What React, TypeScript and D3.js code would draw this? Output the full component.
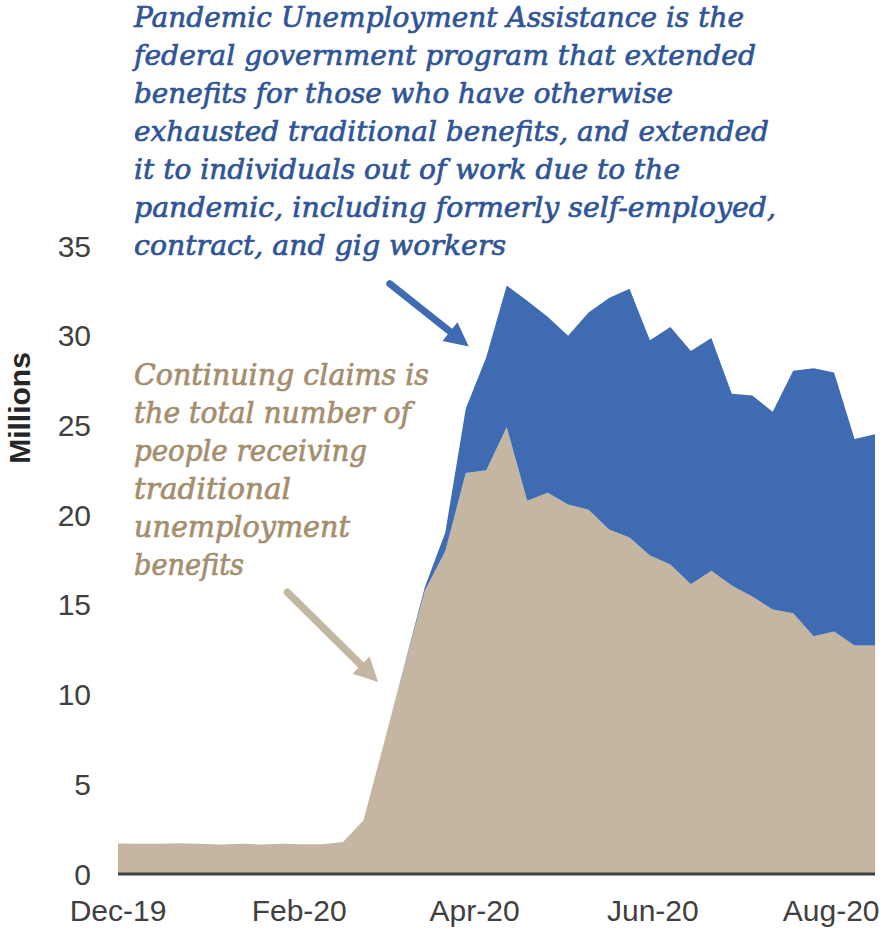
import React from "react";
import * as d3 from "d3";

const weekDates = [
  "2019-12-01","2019-12-08","2019-12-15","2019-12-22","2019-12-29",
  "2020-01-05","2020-01-12","2020-01-19","2020-01-26",
  "2020-02-02","2020-02-09","2020-02-16","2020-02-23",
  "2020-03-01","2020-03-08","2020-03-15","2020-03-22","2020-03-29",
  "2020-04-05","2020-04-12","2020-04-19","2020-04-26",
  "2020-05-03","2020-05-10","2020-05-17","2020-05-24","2020-05-31",
  "2020-06-07","2020-06-14","2020-06-21","2020-06-28",
  "2020-07-05","2020-07-12","2020-07-19","2020-07-26",
  "2020-08-02","2020-08-09","2020-08-16",
];

const continuingClaims = [
  1.70, 1.69, 1.69, 1.71, 1.69, 1.64, 1.69, 1.65, 1.69, 1.66, 1.66, 1.78, 3.0,
  7.3, 11.6, 15.8, 18.0, 22.35, 22.5, 24.9, 20.8, 21.25, 20.6, 20.3, 19.2, 18.75,
  17.75, 17.25, 16.15, 16.9, 16.08, 15.47, 14.74, 14.53, 13.25, 13.51, 12.73, 12.73,
];

const puaClaims = [
  0, 0, 0, 0, 0, 0, 0, 0, 0, 0, 0, 0, 0,
  0, 0.05, 0.2, 1.05, 3.6, 6.3, 7.9, 11.15, 9.8, 9.4, 11.0, 12.9, 13.87,
  12.0, 13.24, 13.0, 12.97, 10.68, 11.2, 11.02, 13.52, 14.93, 14.44, 11.52, 11.78,
];

const yTicks = [0, 5, 10, 15, 20, 25, 30, 35];
const xTickDates = ["2019-12-01", "2020-02-01", "2020-04-01", "2020-06-01", "2020-08-01"];

const puaNote = [
  "Pandemic Unemployment Assistance is the",
  "federal government program that extended",
  "benefits for those who have otherwise",
  "exhausted traditional benefits, and extended",
  "it to individuals out of work due to the",
  "pandemic, including formerly self-employed,",
  "contract, and gig workers",
];
const puaNoteWidths = [610, 622, 539, 635, 546, 642, 372];

const ccNote = [
  "Continuing claims is",
  "the total number of",
  "people receiving",
  "traditional",
  "unemployment",
  "benefits",
];
const ccNoteWidths = [295, 277, 233, 157, 216, 110];

const parse = d3.timeParse("%Y-%m-%d");

export default function App() {
  const W = 884;
  const H = 928;
  const x = d3
    .scaleTime()
    .domain([parse(weekDates[0])!, parse(weekDates[weekDates.length - 1])!])
    .range([118, 875]);
  const y = d3.scaleLinear().domain([0, 35]).range([874, 246]);

  const rows = weekDates.map((d, i) => ({
    date: parse(d)!,
    cc: continuingClaims[i],
    pua: puaClaims[i],
  }));
  const stack = d3.stack<any>().keys(["cc", "pua"]);
  const series = stack(rows);
  const area = d3
    .area<any>()
    .x((d) => x(d.data.date))
    .y0((d) => y(d[0]))
    .y1((d) => y(d[1]));

  const colors = ["#C4B6A1", "#3F6BB3"];
  const fmt = d3.timeFormat("%b-%y");

  const arrow = (
    x1: number, y1: number, x2: number, y2: number,
    color: string, w: number, hl: number, hw: number
  ) => {
    const dx = x2 - x1, dy = y2 - y1;
    const L = Math.hypot(dx, dy);
    const ux = dx / L, uy = dy / L;
    const bx = x2 - ux * hl, by = y2 - uy * hl;
    const px = -uy, py = ux;
    const pts = [
      [x2, y2],
      [bx + px * hw / 2, by + py * hw / 2],
      [bx - px * hw / 2, by - py * hw / 2],
    ];
    return (
      <g>
        <line x1={x1} y1={y1} x2={bx + ux * 2} y2={by + uy * 2} stroke={color} strokeWidth={w} strokeLinecap="round" />
        <polygon points={pts.map((p) => p.join(",")).join(" ")} fill={color} />
      </g>
    );
  };

  // annotation arrows anchored in data coordinates
  const blueStart = { date: parse("2020-03-03")!, v: 32.9 };
  const blueTip = { date: parse("2020-03-30")!, v: 29.4 };
  const tanStart = { date: parse("2020-01-28")!, v: 15.7 };
  const tanTip = { date: parse("2020-02-28")!, v: 10.7 };

  const noteFont = "'DejaVu Serif', Georgia, serif";

  return (
    <svg
      width={W}
      height={H}
      style={{ position: "absolute", left: 0, top: 0, display: "block", background: "#fff" }}
    >
      {series.map((s, i) => (
        <path key={i} d={area(s as any) || ""} fill={colors[i]} />
      ))}
      <line x1={118} x2={875} y1={y(0)} y2={y(0)} stroke="#404040" strokeWidth={3} />

      {yTicks.map((t) => (
        <text
          key={t}
          x={91}
          y={y(t)}
          textAnchor="end"
          dominantBaseline="central"
          fontFamily="'Liberation Sans', Arial, sans-serif"
          fontSize={30}
          fill="#404040"
        >
          {t}
        </text>
      ))}
      {xTickDates.map((d) => (
        <text
          key={d}
          x={x(parse(d)!)}
          y={921}
          textAnchor="middle"
          fontFamily="'Liberation Sans', Arial, sans-serif"
          fontSize={30}
          fill="#404040"
        >
          {fmt(parse(d)!)}
        </text>
      ))}
      <text
        transform="translate(30,408) rotate(-90)"
        textAnchor="middle"
        fontFamily="'Liberation Sans', Arial, sans-serif"
        fontWeight="bold"
        fontSize={30}
        fill="#262626"
      >
        Millions
      </text>

      {puaNote.map((line, i) => (
        <text
          key={i}
          x={134}
          y={27 + i * 38}
          fontFamily={noteFont}
          fontStyle="italic"
          fontSize={28.5}
          fill="#2F5597"
          stroke="#2F5597"
          strokeWidth={0.7}
          textLength={puaNoteWidths[i]}
          lengthAdjust="spacingAndGlyphs"
        >
          {line}
        </text>
      ))}
      {ccNote.map((line, i) => (
        <text
          key={i}
          x={134}
          y={385 + i * 38}
          fontFamily={noteFont}
          fontStyle="italic"
          fontSize={29}
          fill="#A58E6D"
          stroke="#A58E6D"
          strokeWidth={0.7}
          textLength={ccNoteWidths[i]}
          lengthAdjust="spacingAndGlyphs"
        >
          {line}
        </text>
      ))}

      {arrow(x(blueStart.date), y(blueStart.v), x(blueTip.date), y(blueTip.v), "#3F6BB3", 7, 24, 24)}
      {arrow(x(tanStart.date), y(tanStart.v), x(tanTip.date), y(tanTip.v), "#C4B6A1", 7.5, 24, 24)}
    </svg>
  );
}
